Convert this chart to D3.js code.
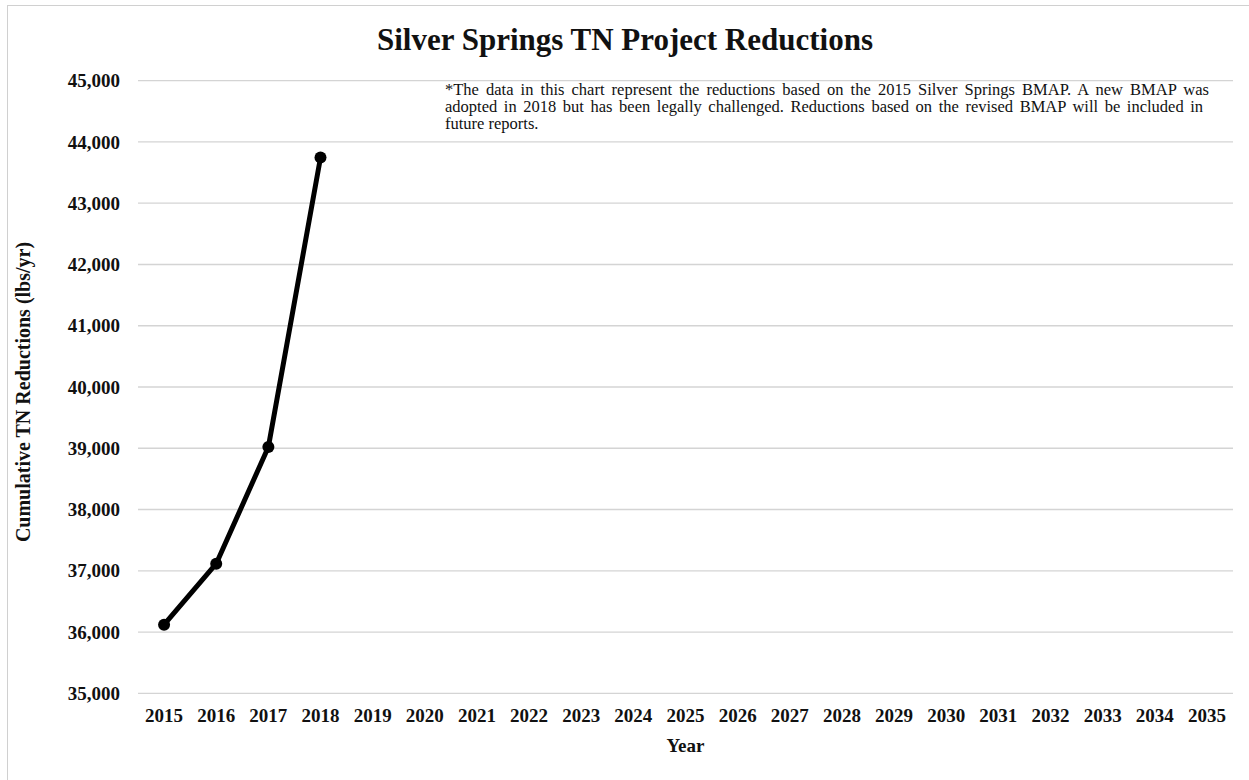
<!DOCTYPE html>
<html><head><meta charset="utf-8">
<script src="https://cdn.jsdelivr.net/npm/d3@7/dist/d3.min.js"></script>
<style>body{margin:0;background:#fff}svg{display:block}text{font-family:"Liberation Serif","Times New Roman",serif}</style>
</head><body><svg id="c" width="1249" height="780"></svg>
<script>
const years = d3.range(2015, 2036).map(String);
const dataYears = ["2015","2016","2017","2018"];
const reductions = [36120, 37115, 39020, 43745];
const yTicks = [35000,36000,37000,38000,39000,40000,41000,42000,43000,44000,45000];
const title = "Silver Springs TN Project Reductions";
const note = ["*The data in this chart represent the reductions based on the 2015 Silver Springs BMAP. A new BMAP was",
 "adopted in 2018 but has been legally challenged. Reductions based on the revised BMAP will be included in",
 "future reports."];
const noteWidths = [764, 758, null];

const svg = d3.select("#c");
svg.append("rect").attr("x",7.5).attr("y",5.5).attr("width",1260).attr("height",800)
  .attr("fill","#fff").attr("stroke","#d0d0d0").attr("stroke-width",1);

const L=138, R=1233, T=80.7, B=693.3;
const x = d3.scaleBand().domain(years).range([L,R]);
const y = d3.scaleLinear().domain([35000,45000]).range([B,T]);

svg.append("g").selectAll("line").data(yTicks).join("line")
  .attr("x1",L).attr("x2",R).attr("y1",d=>y(d)).attr("y2",d=>y(d))
  .attr("stroke","#d4d4d4").attr("stroke-width",1.3);

const ya = svg.append("g").attr("transform",`translate(${L},0)`)
  .call(d3.axisLeft(y).tickValues(yTicks).tickFormat(d3.format(",")).tickSize(0).tickPadding(18));
ya.select(".domain").remove();
ya.selectAll("text").attr("font-size",19).attr("font-weight","bold").attr("fill","#111")
  .style("font-family","'Liberation Serif',serif");

const xa = svg.append("g").attr("transform",`translate(0,${B})`)
  .call(d3.axisBottom(x).tickSize(0).tickPadding(15));
xa.select(".domain").remove();
xa.selectAll("text").attr("font-size",19).attr("font-weight","bold").attr("fill","#111")
  .style("font-family","'Liberation Serif',serif");

const pts = dataYears.map((d,i)=>({yr:d, v:reductions[i]}));
svg.append("path").datum(pts)
  .attr("d", d3.line().x(d=>x(d.yr)+x.bandwidth()/2).y(d=>y(d.v)))
  .attr("fill","none").attr("stroke","#000").attr("stroke-width",5).attr("stroke-linejoin","round");
svg.append("g").selectAll("circle").data(pts).join("circle")
  .attr("cx",d=>x(d.yr)+x.bandwidth()/2).attr("cy",d=>y(d.v)).attr("r",6).attr("fill","#000");

svg.append("text").attr("x",625).attr("y",50).attr("text-anchor","middle")
  .attr("font-size",31).attr("font-weight","bold").attr("fill","#111").text(title);

svg.append("text").attr("x",(L+R)/2).attr("y",752).attr("text-anchor","middle")
  .attr("font-size",19).attr("font-weight","bold").attr("fill","#111").text("Year");
svg.append("text").attr("transform","translate(30,392) rotate(-90)").attr("text-anchor","middle")
  .attr("font-size",20).attr("font-weight","bold").attr("fill","#111").text("Cumulative TN Reductions (lbs/yr)");

const nt = svg.append("g").selectAll("text").data(note).join("text")
  .attr("x",445).attr("y",(d,i)=>95+i*17).attr("font-size",16.5).attr("fill","#111").text(d=>d);
nt.each(function(d,i){
  const w = noteWidths[i];
  if (!w) return;
  const natural = this.getComputedTextLength();
  const spaces = (d.match(/ /g)||[]).length;
  d3.select(this).attr("word-spacing", ((w-natural)/spaces).toFixed(2));
});
</script></body></html>
